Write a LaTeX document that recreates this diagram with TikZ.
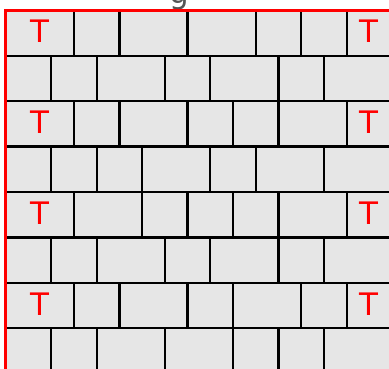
\documentclass[tikz,border=0pt]{standalone}
\usepackage{fontspec}
\setmainfont{DejaVu Sans}
\definecolor{cellgray}{RGB}{230,230,230}
\definecolor{titlegray}{RGB}{85,85,85}
\begin{document}
\begin{tikzpicture}
\tikzset{
  cellbox/.style={fill=cellgray, draw=black, line width=2.2pt},
  tlabel/.style={text=red, font=\fontsize{31}{31}\selectfont, inner sep=0pt},
  frame/.style={draw=red, line width=2.8pt},
}
\path[use as bounding box] (0pt,0pt) rectangle (389pt,-369pt);
\node[anchor=base, text=titlegray, font=\fontsize{31}{31}\selectfont, inner sep=0pt] (title) at (179pt,-3.5pt) {g};
\begin{scope}[shift={(5.8pt,-10.2pt)}, x=22.72pt, y=-45.44pt]
  % rows: row index / list of cell starts (half units), last ends at 17
  \foreach \r/\starts in {0/{0,3,5,8,11,13,15,17},1/{0,2,4,7,9,12,14,17},2/{0,3,5,8,10,12,15,17},3/{0,2,4,6,9,11,14,17},4/{0,3,6,8,10,12,15,17},5/{0,2,4,7,9,12,14,17},6/{0,3,5,8,10,13,15,17},7/{0,2,4,7,10,12,14,17}}{
    \foreach \a [remember=\a as \prev (initially -1)] in \starts {
      \ifnum\prev>-1
        \draw[cellbox] (\prev,\r) rectangle (\a,\r+1);
      \fi
    }
  }
  \foreach \r in {0,2,4,6}{
    \node[tlabel] (tl\r) at (1.5,\r+0.5) [yshift=1.5pt] {T};
    \node[tlabel] (tr\r) at (16,\r+0.5) [yshift=1.5pt] {T};
  }
  \draw[frame] (0,0) rectangle (17,8);
\end{scope}
\end{tikzpicture}
\end{document}
